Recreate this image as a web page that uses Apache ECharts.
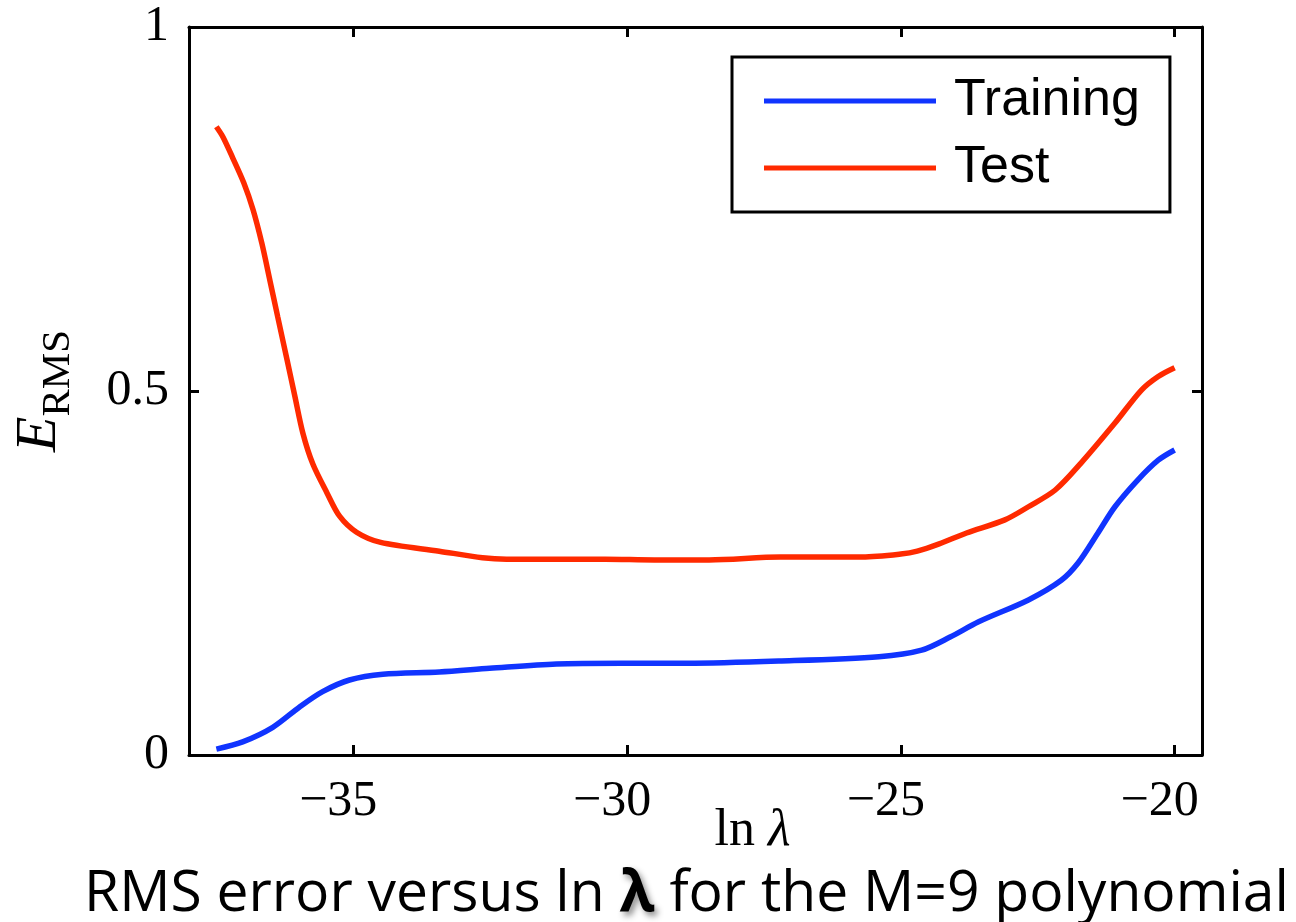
<!DOCTYPE html>
<html>
<head>
<meta charset="utf-8">
<script src="https://cdn.jsdelivr.net/npm/echarts@6/dist/echarts.min.js"></script>
<style>
html,body{margin:0;padding:0;background:#fff;}
#chart{width:1296px;height:922px;}
</style>
</head>
<body>
<div id="chart"></div>
<script>
// ---- data ----
const xTicks = [-35, -30, -25, -20];
const yTicks = [0, 0.5, 1];

const trainingX = [-37.5, -37.02, -36.47, -35.98, -35.56, -35.07, -34.46, -33.43, -32.51, -31.29, -30.1, -28.9, -27.23, -25.4, -24.62, -24.1, -23.58, -22.67, -22.07, -21.76, -21.4, -21.09, -20.67, -20.3, -20.0];
const trainingY = [0.008, 0.018, 0.038, 0.066, 0.087, 0.103, 0.111, 0.114, 0.119, 0.125, 0.126, 0.126, 0.129, 0.135, 0.144, 0.162, 0.183, 0.213, 0.240, 0.264, 0.305, 0.341, 0.378, 0.405, 0.419];

const testX = [-37.5, -37.38, -37.2, -37.0, -36.83, -36.67, -36.52, -36.38, -36.21, -36.07, -35.92, -35.74, -35.48, -35.25, -34.94, -34.5, -33.43, -32.64, -32.2, -30.4, -29.5, -28.5, -27.2, -25.7, -25.0, -24.7, -24.3, -23.8, -23.1, -22.67, -22.18, -21.71, -21.09, -20.61, -20.3, -20.0];
const testY = [0.863, 0.849, 0.820, 0.786, 0.749, 0.703, 0.651, 0.602, 0.543, 0.494, 0.442, 0.400, 0.360, 0.328, 0.306, 0.292, 0.280, 0.271, 0.269, 0.269, 0.268, 0.268, 0.272, 0.272, 0.276, 0.280, 0.290, 0.305, 0.323, 0.341, 0.364, 0.401, 0.456, 0.501, 0.520, 0.532];

const seriesNames = ['Training', 'Test'];
const seriesColors = ['#1034ff', '#ff2a00'];

// ---- chart ----
const zip = (xs, ys) => xs.map((x, i) => [x, ys[i]]);
const serif = 'Liberation Serif, Times New Roman, serif';
const minus = v => (v < 0 ? '\u2212' + Math.abs(v) : String(v));

const frameLine = { show: true, onZero: false, lineStyle: { color: '#000', width: 3 } };
const tickStyle = { show: true, inside: true, length: 10, lineStyle: { color: '#000', width: 3 } };

const chart = echarts.init(document.getElementById('chart'), null, { renderer: 'canvas' });
chart.setOption({
  animation: false,
  backgroundColor: '#fff',
  title: {
    text: 'RMS error versus ln {l|λ} for the M=9 polynomial',
    left: 84,
    top: 866,
    padding: 0,
    textStyle: {
      fontFamily: 'Open Sans, Lato, sans-serif',
      fontSize: 57,
      fontWeight: 'normal',
      color: '#000',
      rich: {
        l: {
          fontFamily: 'Open Sans, Lato, sans-serif',
          fontSize: 57,
          fontWeight: 'bold',
          color: '#000',
          textShadowColor: 'rgba(0,0,0,0.45)',
          textShadowBlur: 6,
          textShadowOffsetX: 3,
          textShadowOffsetY: 4
        }
      }
    }
  },
  legend: {
    orient: 'vertical',
    left: 732,
    top: 57,
    padding: [18, 30, 18, 32],
    icon: 'rect',
    itemWidth: 172,
    itemHeight: 5,
    itemGap: 15,
    borderColor: '#000',
    borderWidth: 3,
    borderRadius: 0,
    backgroundColor: '#fff',
    textStyle: {
      fontFamily: 'Liberation Sans, Arial, sans-serif',
      fontSize: 52,
      color: '#000',
      padding: [0, 0, 0, 13]
    },
    data: seriesNames
  },
  grid: { left: 189, right: 94, top: 27, bottom: 167, containLabel: false, outerBoundsMode: 'none' },
  xAxis: [
    {
      type: 'value', min: -38, max: -19.5, position: 'bottom',
      axisLine: frameLine,
      axisTick: Object.assign({ customValues: xTicks }, tickStyle),
      splitLine: { show: false },
      axisLabel: {
        customValues: xTicks,
        formatter: minus,
        fontFamily: serif, fontSize: 50, color: '#000',
        margin: 22,
        padding: [0, 30, 0, 0]
      },
      name: 'ln {l|λ}',
      nameLocation: 'middle',
      nameGap: 50,
      nameMoveOverlap: false,
      nameTextStyle: {
        fontFamily: serif, fontSize: 52, color: '#000',
        padding: [0, 0, 0, 114],
        rich: { l: { fontFamily: serif, fontSize: 52, fontStyle: 'italic', color: '#000' } }
      }
    },
    {
      type: 'value', min: -38, max: -19.5, position: 'top',
      axisLine: frameLine,
      axisTick: Object.assign({ customValues: xTicks }, tickStyle),
      axisLabel: { show: false },
      splitLine: { show: false }
    }
  ],
  yAxis: [
    {
      type: 'value', min: 0, max: 1, interval: 0.5, position: 'left',
      axisLine: frameLine,
      axisTick: tickStyle,
      splitLine: { show: false },
      axisLabel: {
        customValues: yTicks,
        formatter: v => String(v),
        fontFamily: serif, fontSize: 50, color: '#000',
        margin: 20
      },
      name: '{e|E}{s|RMS}',
      nameLocation: 'middle',
      nameRotate: 90,
      nameGap: 110,
      nameMoveOverlap: false,
      nameTextStyle: {
        rich: {
          e: { fontFamily: serif, fontSize: 58, fontStyle: 'italic', color: '#000', verticalAlign: 'bottom', padding: [0, 0, 10, 0] },
          s: { fontFamily: serif, fontSize: 41, color: '#000', verticalAlign: 'bottom' }
        }
      }
    },
    {
      type: 'value', min: 0, max: 1, interval: 0.5, position: 'right',
      axisLine: frameLine,
      axisTick: tickStyle,
      axisLabel: { show: false },
      splitLine: { show: false }
    }
  ],
  series: [
    {
      name: seriesNames[0], type: 'line', xAxisIndex: 0, yAxisIndex: 0,
      data: zip(trainingX, trainingY),
      symbol: 'none', smooth: 0.3,
      lineStyle: { color: seriesColors[0], width: 5.5 },
      itemStyle: { color: seriesColors[0] }
    },
    {
      name: seriesNames[1], type: 'line', xAxisIndex: 0, yAxisIndex: 0,
      data: zip(testX, testY),
      symbol: 'none', smooth: 0.3,
      lineStyle: { color: seriesColors[1], width: 5.5 },
      itemStyle: { color: seriesColors[1] }
    }
  ]
});
</script>
</body>
</html>
